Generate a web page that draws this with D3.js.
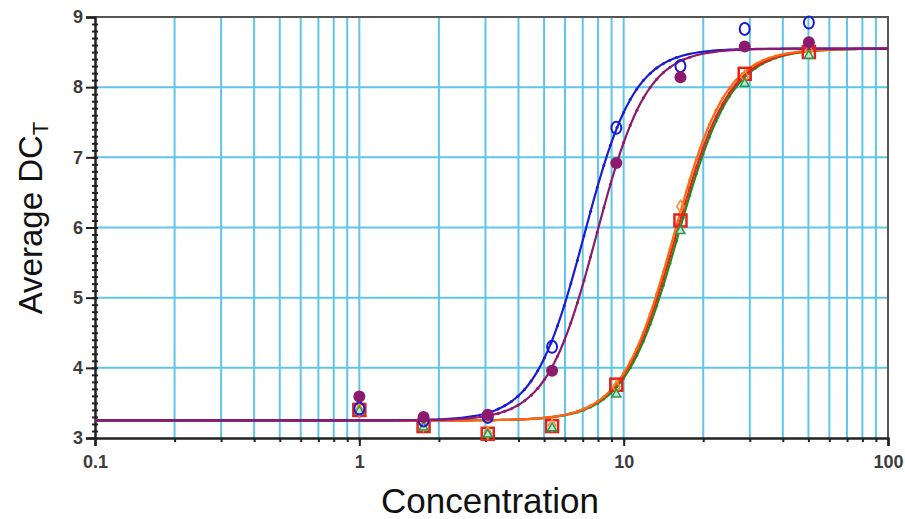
<!DOCTYPE html>
<html>
<head>
<meta charset="utf-8">
<script src="https://cdn.jsdelivr.net/npm/d3@7"></script>
<style>
  body { margin: 0; background: #fff; }
  svg { display: block; font-family: Arial, "Liberation Sans", sans-serif; }
</style>
</head>
<body>
<svg id="chart"></svg>
<script>
// concentrations used for every series (1.75x dilution steps)
const concentrations = [1, 1.75, 3.06, 5.36, 9.38, 16.4, 28.7, 50.2];

// measured average DCt per series
const blueValues = [3.42, 3.25, 3.30, 4.30, 7.42, 8.30, 8.83, 8.92];
const purpleValues = [3.59, 3.30, 3.33, 3.96, 6.92, 8.14, 8.58, 8.64];
const redValues = [3.40, 3.17, 3.06, 3.17, 3.76, 6.10, 8.19, 8.50];
const orangeValues = [3.40, 3.18, 3.07, 3.18, 3.73, 6.30, 8.15, 8.52];
const greenValues = [3.38, 3.15, 3.05, 3.14, 3.62, 5.95, 8.05, 8.45];

// 4-parameter logistic fit of each series: [bottom, top, ec50, hill]
const blueFit = [3.25, 8.55, 7.1, 4.6];
const purpleFit = [3.25, 8.55, 7.9, 4.6];
const redFit = [3.25, 8.55, 15.8, 4.3];
const orangeFit = [3.25, 8.55, 15.5, 4.4];
const greenFit = [3.25, 8.55, 16.1, 4.3];

const xTickLabels = ['0.1', '1', '10', '100'];
const yTickLabels = [3, 4, 5, 6, 7, 8, 9];

const svgWidth = 905;
const svgHeight = 519;
const margin = { top: 17, right: 17, bottom: 81, left: 95 };
const width = svgWidth - margin.left - margin.right;
const height = svgHeight - margin.top - margin.bottom;

const svg = d3.select('#chart')
  .attr('width', svgWidth)
  .attr('height', svgHeight);

const g = svg.append('g')
  .attr('transform', `translate(${margin.left},${margin.top})`);

const xScale = d3.scaleLog().domain([0.1, 100]).range([0, width]);
const yScale = d3.scaleLinear().domain([3, 9]).range([height, 0]);

const gridColor = '#5fc6ea';

// minor log positions 0.2..90 (gridlines + small ticks)
const minorX = [];
[0.1, 1, 10].forEach((dec) => {
  for (let k = 2; k <= 10; k++) {
    const v = +(dec * k).toPrecision(3);
    if (v < 100) minorX.push(v);
  }
});

// vertical gridlines
g.append('g')
  .selectAll('line')
  .data(minorX)
  .enter()
  .append('line')
  .attr('x1', (d) => xScale(d))
  .attr('x2', (d) => xScale(d))
  .attr('y1', 0)
  .attr('y2', height)
  .attr('stroke', gridColor)
  .attr('stroke-width', 2);

// horizontal gridlines
g.append('g')
  .selectAll('line')
  .data(yTickLabels.filter((d) => d > 3 && d < 9))
  .enter()
  .append('line')
  .attr('x1', 0)
  .attr('x2', width)
  .attr('y1', (d) => yScale(d))
  .attr('y2', (d) => yScale(d))
  .attr('stroke', gridColor)
  .attr('stroke-width', 2);

// frame top + right
g.append('path')
  .attr('d', `M0,0H${width}V${height}`)
  .attr('fill', 'none')
  .attr('stroke', '#555')
  .attr('stroke-width', 2);

// axes
const xAxis = g.append('g')
  .attr('transform', `translate(0,${height})`)
  .call(d3.axisBottom(xScale)
    .tickValues(xTickLabels.map(Number))
    .tickFormat((d, i) => xTickLabels[i])
    .tickSize(8)
    .tickPadding(7));

g.append('g')
  .attr('transform', `translate(0,${height})`)
  .call(d3.axisBottom(xScale).tickValues(minorX).tickFormat('').tickSize(4))
  .call((a) => a.select('.domain').remove());

const yAxis = g.append('g')
  .call(d3.axisLeft(yScale)
    .tickValues(yTickLabels)
    .tickFormat(d3.format('d'))
    .tickSize(9)
    .tickPadding(3));

g.append('g')
  .attr('transform', 'translate(3,0)')
  .call(d3.axisLeft(yScale).tickValues(d3.range(3, 9, 0.1)).tickFormat('').tickSize(6))
  .call((a) => a.select('.domain').remove());

g.selectAll('.domain').attr('stroke', '#222').attr('stroke-width', 2.5);
g.selectAll('.tick line').attr('stroke', '#222').attr('stroke-width', 2);
g.selectAll('.tick text')
  .attr('fill', '#3c3c3c')
  .attr('font-size', 18)
  .attr('font-weight', 'bold');
xAxis.selectAll('.tick text').attr('dy', '0.85em');

// axis titles
svg.append('text')
  .attr('x', 490)
  .attr('y', 513)
  .attr('text-anchor', 'middle')
  .attr('font-size', 35)
  .attr('fill', '#111')
  .text('Concentration');

const yTitle = svg.append('text')
  .attr('transform', 'translate(42,218) rotate(-90)')
  .attr('text-anchor', 'middle')
  .attr('font-size', 33)
  .attr('fill', '#111');
yTitle.append('tspan').text('Average DC');
yTitle.append('tspan').attr('font-size', 22).attr('dy', 6).text('T');

// fitted curves
const logistic = (fit) => (x) => fit[0] + (fit[1] - fit[0]) / (1 + Math.pow(fit[2] / x, fit[3]));
const curveX = d3.range(0, 241).map((i) => Math.pow(10, -1 + (3 * i) / 240));

const line = d3.line()
  .x((d) => xScale(d[0]))
  .y((d) => yScale(d[1]));

const curves = [
  { fit: greenFit, color: '#1f8a1f' },
  { fit: redFit, color: '#e2231a' },
  { fit: orangeFit, color: '#ff6a10' },
  { fit: blueFit, color: '#1b1bd6' },
  { fit: purpleFit, color: '#8e1a6e' },
];

curves.forEach((c) => {
  const f = logistic(c.fit);
  const pts = curveX.map((x) => [x, f(x)]);
  g.append('path')
    .datum(pts)
    .attr('d', line)
    .attr('fill', 'none')
    .attr('stroke', c.color)
    .attr('stroke-width', 2.2);
  g.append('g')
    .selectAll('circle')
    .data(pts.filter((d, i) => i % 2 === 0 && d[1] > 3.35 && d[1] < 8.45))
    .enter()
    .append('circle')
    .attr('cx', (d) => xScale(d[0]))
    .attr('cy', (d) => yScale(d[1]))
    .attr('r', 1.5)
    .attr('fill', c.color);
});

// data markers
const pointsOf = (values) => values.map((v, i) => [concentrations[i], v]);

// red open squares
g.append('g')
  .selectAll('rect')
  .data(pointsOf(redValues))
  .enter()
  .append('rect')
  .attr('x', (d) => xScale(d[0]) - 6)
  .attr('y', (d) => yScale(d[1]) - 6)
  .attr('width', 12)
  .attr('height', 12)
  .attr('fill', 'none')
  .attr('stroke', '#e2231a')
  .attr('stroke-width', 2.5);

// orange open diamonds
g.append('g')
  .selectAll('path')
  .data(pointsOf(orangeValues))
  .enter()
  .append('path')
  .attr('d', d3.symbol(d3.symbolDiamond, 45))
  .attr('transform', (d) => `translate(${xScale(d[0])},${yScale(d[1])})`)
  .attr('fill', 'none')
  .attr('stroke', '#ff8a30')
  .attr('stroke-width', 1.5);

// green open triangles
g.append('g')
  .selectAll('path')
  .data(pointsOf(greenValues))
  .enter()
  .append('path')
  .attr('d', d3.symbol(d3.symbolTriangle, 35))
  .attr('transform', (d) => `translate(${xScale(d[0])},${yScale(d[1])})`)
  .attr('fill', '#bfe8d8')
  .attr('stroke', '#2a9a4a')
  .attr('stroke-width', 1.5);

// blue open circles
g.append('g')
  .selectAll('ellipse')
  .data(pointsOf(blueValues))
  .enter()
  .append('ellipse')
  .attr('cx', (d) => xScale(d[0]))
  .attr('cy', (d) => yScale(d[1]))
  .attr('rx', 5)
  .attr('ry', 6)
  .attr('fill', 'none')
  .attr('stroke', '#1b1bd6')
  .attr('stroke-width', 2);

// purple filled circles
g.append('g')
  .selectAll('circle')
  .data(pointsOf(purpleValues))
  .enter()
  .append('circle')
  .attr('cx', (d) => xScale(d[0]))
  .attr('cy', (d) => yScale(d[1]))
  .attr('r', 6)
  .attr('fill', '#8e1a6e');
</script>
</body>
</html>
